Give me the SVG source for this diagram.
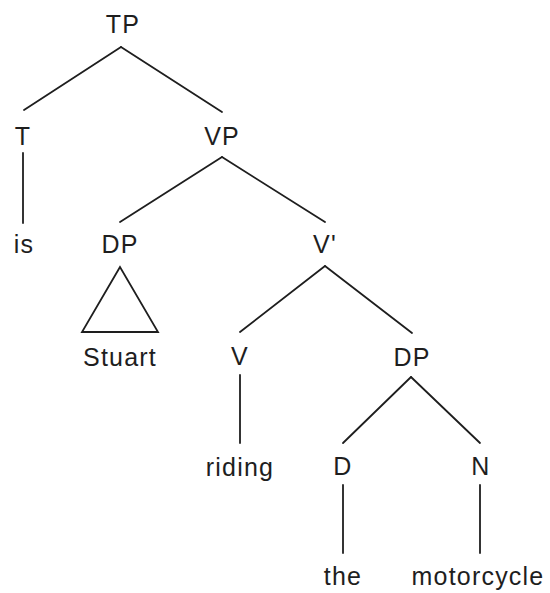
<svg xmlns="http://www.w3.org/2000/svg" width="550" height="593" viewBox="0 0 550 593">
  <style>
    .lbl { font-family: "Liberation Sans", Arial, sans-serif; font-size: 25px; letter-spacing: 1.2px; fill: #1e1e1e; text-anchor: middle; }
    .edge { stroke: #1e1e1e; stroke-width: 1.8; fill: none; stroke-linecap: round; }
  </style>
  <rect width="550" height="593" fill="#ffffff"/>

  <!-- branches of the tree -->
  <g id="connectors">
    <line class="edge" x1="121" y1="47" x2="24" y2="110"/>
    <line class="edge" x1="121" y1="47" x2="222" y2="112"/>
    <line class="edge" x1="23" y1="153" x2="23" y2="223"/>
    <line class="edge" x1="222" y1="157" x2="120" y2="222"/>
    <line class="edge" x1="222" y1="157" x2="325" y2="222"/>
    <polygon class="edge" points="120,267 82,332 158,332"/>
    <line class="edge" x1="325" y1="266" x2="240" y2="332"/>
    <line class="edge" x1="325" y1="266" x2="412" y2="333"/>
    <line class="edge" x1="240" y1="375" x2="240" y2="443"/>
    <line class="edge" x1="411" y1="377" x2="343" y2="443"/>
    <line class="edge" x1="411" y1="377" x2="480" y2="443"/>
    <line class="edge" x1="343" y1="485" x2="343" y2="553"/>
    <line class="edge" x1="480" y1="485" x2="480" y2="553"/>
  </g>

  <g id="tp"><text class="lbl" x="123" y="33">TP</text></g>
  <g id="t"><text class="lbl" x="23" y="145">T</text></g>
  <g id="vp"><text class="lbl" x="222" y="145">VP</text></g>
  <g id="is"><text class="lbl" x="24" y="253">is</text></g>
  <g id="dp-subject"><text class="lbl" x="120" y="253">DP</text></g>
  <g id="v-bar"><text class="lbl" x="325" y="253">V'</text></g>
  <g id="stuart"><text class="lbl" x="120" y="366">Stuart</text></g>
  <g id="v"><text class="lbl" x="240" y="365">V</text></g>
  <g id="dp-object"><text class="lbl" x="412" y="366">DP</text></g>
  <g id="riding"><text class="lbl" x="240" y="476">riding</text></g>
  <g id="d"><text class="lbl" x="343" y="475">D</text></g>
  <g id="n"><text class="lbl" x="481" y="475">N</text></g>
  <g id="the"><text class="lbl" x="343" y="585">the</text></g>
  <g id="motorcycle"><text class="lbl" x="478" y="585">motorcycle</text></g>
</svg>
